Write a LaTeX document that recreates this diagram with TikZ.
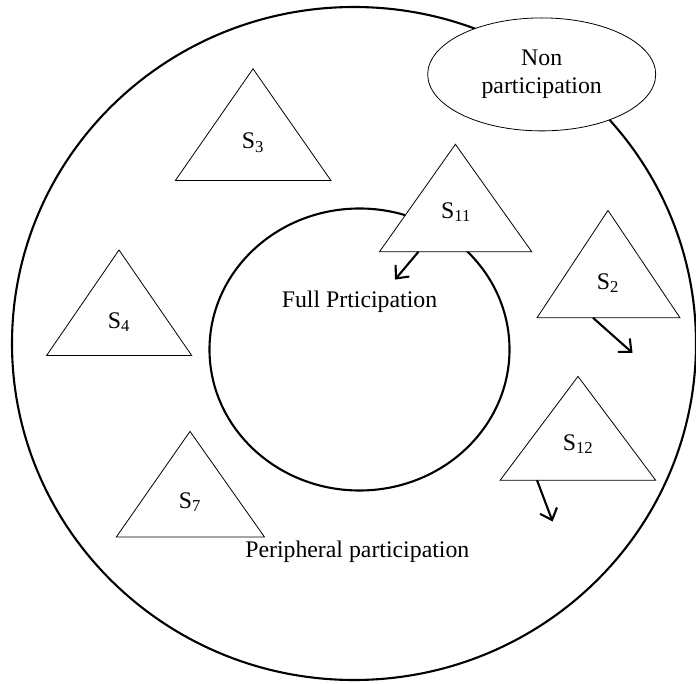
\documentclass[tikz,border=0pt]{standalone}
\usepackage{fontspec}
\setmainfont{Liberation Serif}
\usetikzlibrary{arrows.meta,shapes.geometric}
\begin{document}
\begin{tikzpicture}[x=1pt,y=-1pt,
  ring/.style={draw=black,line width=2.1pt},
  tri/.style={draw=black,line width=0.8pt,fill=white},
  lbl/.style={font=\fontsize{23.8}{26}\selectfont,inner sep=0pt},
  move/.style={draw=black,line width=2.1pt,-{Straight Barb[length=10pt,width=18pt]}}]
\useasboundingbox (0,0) rectangle (696,684);
% outer ring
\draw[ring] (354,343.5) ellipse [x radius=342, y radius=336.5];
% inner ring
\draw[ring] (359.5,349.5) ellipse [x radius=150, y radius=141];
% non participation
\node[draw=black,line width=0.8pt,fill=white,ellipse,minimum width=228pt,minimum height=113pt,inner sep=0pt,
  align=center,font=\fontsize{23.8}{28}\selectfont] (non) at (541.7,74.4) {Non\\participation};
% triangles
\draw[tri] (253,68.8) -- (331,180.6) -- (175.3,180.6) -- cycle;
\node[lbl] (s3) at (253,143) {S\textsubscript{3}};
\draw[tri] (455.4,144.3) -- (531.7,251.7) -- (379.5,251.7) -- cycle;
\node[lbl] (s11) at (456,212) {S\textsubscript{11}};
\draw[tri] (119,250) -- (191.7,355.5) -- (46.6,355.5) -- cycle;
\node[lbl] (s4) at (119,322) {S\textsubscript{4}};
\draw[tri] (608,210.4) -- (680,317.8) -- (537,317.8) -- cycle;
\node[lbl] (s2) at (608,283) {S\textsubscript{2}};
\draw[tri] (578,376.4) -- (655.6,480.2) -- (500.2,480.2) -- cycle;
\node[lbl] (s12) at (578,444) {S\textsubscript{12}};
\draw[tri] (190,431.4) -- (264.5,537) -- (116.3,537) -- cycle;
\node[lbl] (s7) at (190,502) {S\textsubscript{7}};
% texts
\node[lbl] (full) at (359.5,302) {Full Prticipation};
\node[lbl] (peri) at (357.3,552) {Peripheral participation};
% arrows
\coordinate (a11) at (418.5,251.7);
\coordinate (b11) at (395,279.6);
\coordinate (a2) at (593,317.8);
\coordinate (b2) at (632.5,352.9);
\coordinate (a12) at (537,480.2);
\coordinate (b12) at (552.6,521.5);
\draw[move] (a11) -- (b11);
\draw[move] (a2) -- (b2);
\draw[move] (a12) -- (b12);
\end{tikzpicture}
\end{document}
